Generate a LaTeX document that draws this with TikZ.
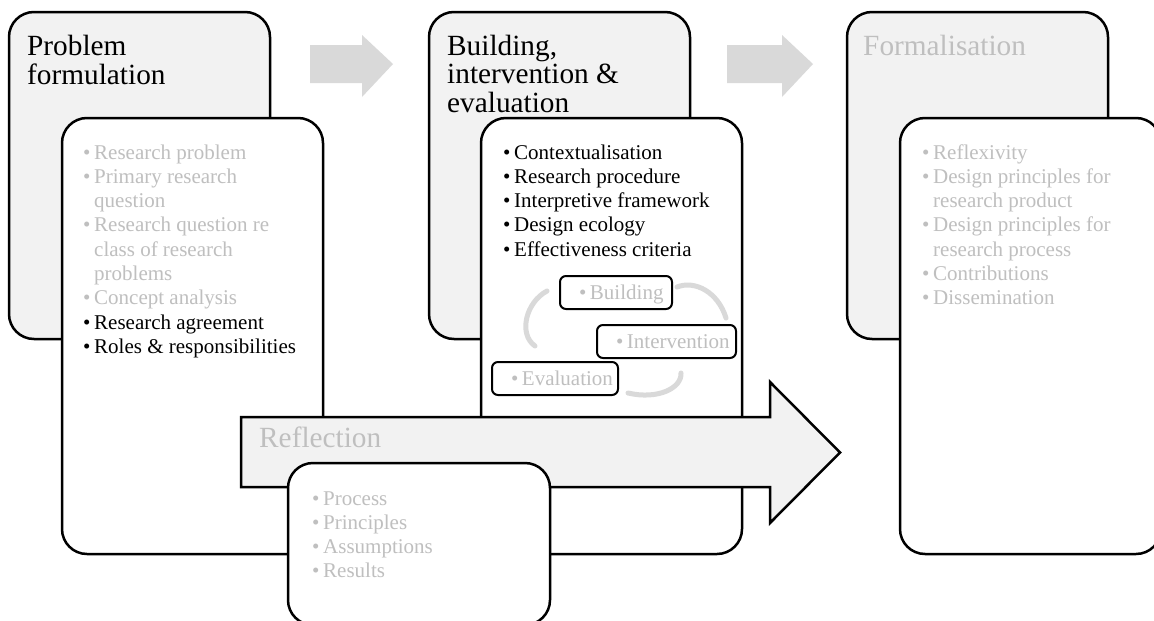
\documentclass[tikz,border=0pt]{standalone}
\usepackage{fontspec}
\setmainfont{Liberation Serif}

\definecolor{panel}{HTML}{F2F2F2}
\definecolor{faint}{HTML}{BFBFBF}
\definecolor{flow}{HTML}{D9D9D9}

% bullet with hanging indent, and the indent for continuation lines
\newcommand\bul{\makebox[11pt][l]{•}}
\newcommand\ind{\hspace*{11pt}}
% stacked lines whose baseline is the first line
\newcommand\linestack[1]{\begin{tabular}[t]{@{}l@{}}#1\end{tabular}}
% label inside a small cycle box: fixed box width, text set in from the left
\newcommand\phaselabel[2]{\makebox[#1][l]{\hspace*{19pt}\bul#2}}

\tikzset{
  stage/.style={draw=black, line width=2.5pt, rounded corners=25pt, fill=panel, inner sep=0pt},
  detail/.style={draw=black, line width=2.5pt, rounded corners=25pt, fill=white, inner sep=0pt},
  phase/.style={draw=black, line width=2pt, rounded corners=6pt, fill=white, inner sep=0pt,
    text height=23pt, text depth=10pt, anchor=base west, text=faint,
    font=\fontsize{21}{24.3}\selectfont},
  title/.style={anchor=base west, inner sep=0pt, font=\fontsize{29.3}{28.3}\selectfont},
  items/.style={anchor=base west, inner sep=0pt, font=\fontsize{21}{24.3}\selectfont},
  flowarrow/.style={fill=flow, draw=none},
  bigarrow/.style={fill=panel, draw=black, line width=2.5pt},
  loop/.style={draw=flow, line width=5pt, line cap=round},
}

\begin{document}
\begin{tikzpicture}[x=1pt, y=-1pt]
\clip (0,0) rectangle (1154,621);
\fill[white] (0,0) rectangle (1154,621);

% ---- Problem formulation ----
\node[stage, minimum width=261pt, minimum height=327pt] (pfstage) at (139.5,175.5) {};
\node[title] (pftitle) at (27,55) {\linestack{Problem\\formulation}};
\node[detail, minimum width=261pt, minimum height=436pt] (pfdetail) at (192.5,336) {};
\node[items, text=faint] (pflist) at (83,159) {\linestack{%
  \bul Research problem\\
  \bul Primary research\\
  \ind question\\
  \bul Research question re\\
  \ind class of research\\
  \ind problems\\
  \bul Concept analysis\\
  \textcolor{black}{\bul Research agreement}\\
  \textcolor{black}{\bul Roles \& responsibilities}}};

% arrow to the next stage
\fill[flowarrow] (310,45) -- (362,45) -- (362,35) -- (393,64) -- (362,97) -- (362,83) -- (310,83) -- cycle;

% ---- Building, intervention & evaluation ----
\node[stage, minimum width=261pt, minimum height=327pt] (bistage) at (559.5,175.5) {};
\node[title] (bititle) at (447,55) {\linestack{Building,\\intervention \&\\evaluation}};
\node[detail, minimum width=261pt, minimum height=436pt] (bidetail) at (611.5,336) {};
\node[items] (bilist) at (503,159) {\linestack{%
  \bul Contextualisation\\
  \bul Research procedure\\
  \bul Interpretive framework\\
  \bul Design ecology\\
  \bul Effectiveness criteria}};

% build / intervene / evaluate cycle
\draw[loop] (547,291) .. controls (526,302) and (518,334) .. (535,346);
\draw[loop] (677,287) .. controls (695,280) and (718,292) .. (726,318);
\draw[loop] (681,373) .. controls (682,388) and (658,400) .. (628,393);
\node[phase] (building) at (559,299) {\phaselabel{112pt}{Building}};
\node[phase] (intervention) at (596,348) {\phaselabel{139pt}{Intervention}};
\node[phase] (evaluation) at (491,385) {\phaselabel{126pt}{Evaluation}};

% arrow to the next stage
\fill[flowarrow] (727,45) -- (782,45) -- (782,35) -- (813,64) -- (782,97) -- (782,83) -- (727,83) -- cycle;

% ---- Formalisation ----
\node[stage, minimum width=261pt, minimum height=327pt] (fostage) at (977.5,175.5) {};
\node[title, text=faint] (fotitle) at (863,55) {Formalisation};
\node[detail, minimum width=261pt, minimum height=436pt] (fodetail) at (1030.5,336) {};
\node[items, text=faint] (folist) at (922,159) {\linestack{%
  \bul Reflexivity\\
  \bul Design principles for\\
  \ind research product\\
  \bul Design principles for\\
  \ind research process\\
  \bul Contributions\\
  \bul Dissemination}};

% ---- Reflection, running across the stages ----
\draw[bigarrow] (241,417) -- (770,417) -- (770,382) -- (840,452.5) -- (770,523) -- (770,487) -- (241,487) -- cycle;
\node[title, text=faint] (retitle) at (259,447) {Reflection};
\node[detail, minimum width=262pt, minimum height=162pt] (redetail) at (419,544) {};
\node[items, text=faint] (relist) at (312,505) {\linestack{%
  \bul Process\\
  \bul Principles\\
  \bul Assumptions\\
  \bul Results}};
\end{tikzpicture}
\end{document}
